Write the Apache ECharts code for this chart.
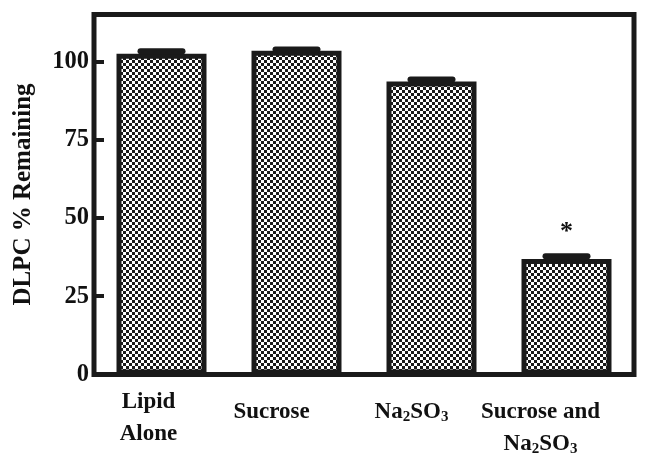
<!DOCTYPE html>
<html><head><meta charset="utf-8">
<script src="https://cdn.jsdelivr.net/npm/echarts@6/dist/echarts.min.js"></script>
<style>html,body{margin:0;padding:0;background:#fff}#c{width:654px;height:464px}</style>
</head><body><div id="c"></div>
<script>
var categories = ['Lipid Alone', 'Sucrose', 'Na2SO3', 'Sucrose and Na2SO3'];
var values = [102.5, 103.4, 93.6, 36.9];
var errors = [0.8, 0.4, 0.6, 0.9];
var significance = ['', '', '', '*'];
var yTicks = [0, 25, 50, 75, 100];

var pc = document.createElement('canvas');
pc.width = 6; pc.height = 6;
var g = pc.getContext('2d');
g.fillStyle = '#ffffff'; g.fillRect(0, 0, 6, 6);
g.fillStyle = '#1a1a1a'; g.fillRect(0, 0, 3, 3); g.fillRect(3, 3, 3, 3);

var F = '"Liberation Serif","Times New Roman",serif';
var sub = {fontSize: 15, fontWeight: 'bold', fontFamily: F, color: '#111', padding: [10, 0, 0, 0]};
var base = {fontSize: 23, fontWeight: 'bold', fontFamily: F, color: '#111'};
var labelFmt = {
  'Lipid Alone': '{b|Lipid}\n{b|Alone}',
  'Sucrose': '{b|Sucrose}',
  'Na2SO3': '{b|Na}{s|2}{b|SO}{s|3}',
  'Sucrose and Na2SO3': '{b|Sucrose and}\n{b|Na}{s|2}{b|SO}{s|3}'
};
var labelPad = {
  'Lipid Alone': [4, 26, 0, 0],
  'Sucrose': [14, 50, 0, 0],
  'Na2SO3': [14, 40, 0, 0],
  'Sucrose and Na2SO3': [14, 52, 0, 0]
};

var chart = echarts.init(document.getElementById('c'));
chart.setOption({
  animation: false,
  grid: {left: 94, right: 20, top: 14.5, bottom: 89.5, show: true, borderColor: '#1a1a1a', borderWidth: 5,
    outerBoundsMode: 'none', containLabel: false},
  xAxis: {
    type: 'category',
    data: categories.map(function (c) {
      return {value: c, textStyle: {padding: labelPad[c]}};
    }),
    axisLine: {show: false},
    axisTick: {show: false},
    axisLabel: {
      interval: 0, margin: 8, verticalAlign: 'top',
      formatter: function (v) { return labelFmt[v]; },
      rich: {b: Object.assign({lineHeight: 32}, base), s: Object.assign({lineHeight: 32}, sub)}
    }
  },
  yAxis: {
    type: 'value', min: 0, max: 115, interval: 25,
    splitLine: {show: false},
    axisLine: {show: false},
    axisTick: {show: true, inside: true, length: 10, lineStyle: {width: 4, color: '#1a1a1a'}},
    axisLabel: {
      margin: 5, showMaxLabel: false,
      formatter: function (v) { return yTicks.indexOf(v) >= 0 ? String(v) : ''; },
      fontSize: 24.5, fontWeight: 'bold', fontFamily: F, color: '#111'
    },
    name: 'DLPC % Remaining', nameLocation: 'middle', nameGap: 58,
    nameTextStyle: {fontSize: 25, fontWeight: 'bold', fontFamily: F, color: '#111'}
  },
  series: [{
    type: 'bar',
    barWidth: 90,
    data: values.map(function (v, i) {
      return {
        value: v,
        label: {show: significance[i] !== '', position: 'top', distance: 14, formatter: significance[i],
          fontSize: 26, fontWeight: 'bold', fontFamily: F, color: '#111'}
      };
    }),
    itemStyle: {color: {image: pc, repeat: 'repeat'}, borderColor: '#1a1a1a', borderWidth: 5}
  }, {
    type: 'custom',
    data: values.map(function (v, i) { return [i, v, errors[i]]; }),
    z: 5,
    renderItem: function (params, api) {
      var x = api.value(0), v = api.value(1), e = api.value(2);
      var p0 = api.coord([x, v]);
      var p1 = api.coord([x, v + e]);
      return {
        type: 'group', children: [
          {type: 'line', shape: {x1: p0[0], y1: p0[1], x2: p1[0], y2: p1[1]}, style: {stroke: '#1a1a1a', lineWidth: 3}},
          {type: 'line', shape: {x1: p1[0] - 21, y1: p1[1], x2: p1[0] + 21, y2: p1[1]}, style: {stroke: '#1a1a1a', lineWidth: 6, lineCap: 'round'}}
        ]
      };
    }
  }]
});
</script></body></html>
